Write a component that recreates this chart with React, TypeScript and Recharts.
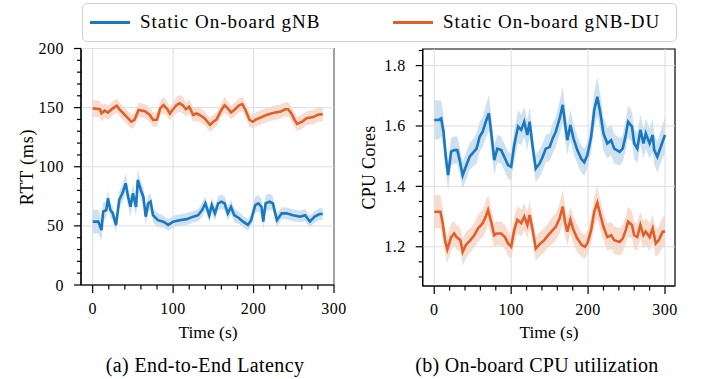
import React from 'react';
import { ComposedChart, Line, Area, XAxis, YAxis, ReferenceLine, ReferenceArea } from 'recharts';

const BLUE = '#1a78be';
const ORANGE = '#e06027';
const FONT = '"Liberation Serif", "Times New Roman", Times, serif';

// (a) End-to-End Latency, RTT in ms
const latGnbTime = [0, 7, 11, 13, 17, 19, 22, 25, 29, 33, 37, 41, 44, 47, 50, 54, 56, 60, 63, 66, 69, 72, 75, 81, 88, 94, 100, 108, 117, 125, 131, 136, 140, 145, 148, 152, 156, 160, 164, 168, 172, 176, 182, 187, 193, 197, 202, 206, 210, 212, 215, 220, 224, 229, 235, 241, 249, 258, 264, 270, 276, 282, 286];
const latGnbRtt = [53.6, 53.6, 46.5, 62, 63.4, 73.3, 63.4, 60.6, 50.7, 71.9, 77.5, 86, 74.7, 66.2, 77.5, 66, 88.8, 80, 74.7, 57.8, 69, 70.5, 59, 54.8, 53.6, 50.8, 53.6, 54.8, 55.7, 57.8, 59, 63.4, 69, 59, 67.6, 60.6, 69, 70.5, 69, 60.6, 66, 59, 56.5, 53.6, 50.8, 54.8, 67.6, 69, 66, 53.6, 69, 70.5, 69, 54.8, 60.6, 60.6, 59, 57.8, 59, 53.6, 57.8, 60, 60];
const latGnbSpread = [10, 10, 9, 8, 7, 7, 6, 6, 6, 7, 8, 8, 8, 8, 8, 8, 9, 8, 8, 7, 7, 7, 6, 6, 5, 5, 5, 5, 5, 5, 5, 6, 6, 6, 6, 6, 6, 6, 6, 6, 6, 6, 5, 5, 5, 5, 7, 7, 7, 7, 7, 7, 6, 6, 5, 5, 5, 5, 5, 5, 5, 5, 5];

const latDuTime = [0, 5, 9, 11, 15, 19, 25, 30, 34, 40, 48, 52, 57, 65, 71, 75, 80, 84, 88, 93, 96, 100, 104, 108, 112, 116, 120, 125, 129, 133, 139, 146, 150, 154, 160, 164, 168, 172, 176, 182, 186, 190, 195, 199, 203, 210, 216, 222, 228, 234, 239, 243, 247, 251, 254, 260, 266, 274, 280, 286];
const latDuRtt = [149.4, 149, 148.6, 145.2, 147.5, 145.8, 149.4, 151.6, 148, 143.8, 138.2, 139.6, 148, 147, 143.8, 139.6, 140, 149.4, 152.2, 148.6, 145, 148.6, 152, 153.6, 152, 148.6, 150.8, 143.8, 145, 143.8, 141, 135.4, 138, 140, 148, 152, 149.4, 146, 148, 152, 153, 148, 139.6, 138, 140, 142, 143.8, 145, 146, 146.7, 148.6, 148.6, 145, 139.6, 136.2, 138, 141, 142, 144, 144.5];
const latDuSpread = [7, 7, 7, 7, 6, 6, 6, 6, 6, 6, 6, 6, 6, 6, 6, 6, 6, 6, 7, 6, 6, 6, 7, 7, 7, 6, 6, 6, 6, 6, 6, 6, 6, 6, 6, 7, 6, 6, 6, 6, 6, 6, 6, 6, 6, 6, 6, 6, 6, 6, 6, 6, 6, 6, 6, 6, 6, 6, 6, 6];

// (b) On-board CPU utilization, cores
const cpuGnbTime = [0, 6, 9, 12, 15, 18, 22, 26, 30, 33, 37, 41, 46, 50, 55, 59, 63, 67, 71, 74, 78, 82, 87, 91, 96, 100, 104, 109, 113, 117, 121, 124, 128, 132, 137, 141, 145, 150, 154, 158, 163, 167, 170, 173, 177, 181, 186, 191, 195, 199, 204, 208, 212, 216, 220, 225, 230, 234, 241, 245, 249, 252, 257, 260, 264, 268, 272, 275, 280, 284, 286, 290, 296, 300];
const cpuGnbCores = [1.62, 1.62, 1.625, 1.581, 1.498, 1.437, 1.515, 1.52, 1.52, 1.487, 1.437, 1.465, 1.498, 1.51, 1.525, 1.564, 1.581, 1.614, 1.642, 1.581, 1.487, 1.525, 1.52, 1.498, 1.47, 1.465, 1.537, 1.598, 1.587, 1.614, 1.57, 1.614, 1.53, 1.459, 1.476, 1.498, 1.525, 1.53, 1.559, 1.581, 1.625, 1.67, 1.61, 1.553, 1.603, 1.559, 1.52, 1.492, 1.48, 1.503, 1.564, 1.653, 1.697, 1.642, 1.575, 1.542, 1.553, 1.525, 1.514, 1.525, 1.57, 1.614, 1.598, 1.542, 1.525, 1.587, 1.542, 1.575, 1.542, 1.57, 1.52, 1.498, 1.542, 1.57];
const cpuGnbSpread = [0.065, 0.065, 0.06, 0.055, 0.05, 0.05, 0.045, 0.045, 0.045, 0.045, 0.045, 0.045, 0.045, 0.045, 0.05, 0.05, 0.05, 0.055, 0.06, 0.055, 0.05, 0.045, 0.045, 0.045, 0.045, 0.045, 0.05, 0.055, 0.05, 0.05, 0.05, 0.05, 0.045, 0.045, 0.045, 0.045, 0.045, 0.045, 0.05, 0.05, 0.055, 0.06, 0.055, 0.05, 0.05, 0.05, 0.045, 0.045, 0.045, 0.045, 0.05, 0.06, 0.065, 0.06, 0.055, 0.05, 0.05, 0.05, 0.045, 0.045, 0.05, 0.055, 0.05, 0.05, 0.05, 0.05, 0.05, 0.05, 0.05, 0.055, 0.05, 0.05, 0.055, 0.06];

const cpuDuTime = [0, 8, 11, 14, 17, 22, 26, 29, 34, 37, 41, 47, 52, 57, 63, 67, 70, 74, 78, 81, 87, 92, 96, 100, 104, 108, 113, 117, 121, 124, 128, 132, 138, 143, 148, 154, 158, 163, 167, 170, 173, 177, 181, 186, 192, 196, 199, 204, 208, 212, 216, 220, 225, 230, 234, 241, 245, 249, 252, 257, 260, 264, 268, 272, 275, 280, 284, 288, 292, 297, 300];
const cpuDuCores = [1.316, 1.316, 1.278, 1.222, 1.191, 1.232, 1.244, 1.232, 1.222, 1.183, 1.205, 1.222, 1.238, 1.261, 1.278, 1.3, 1.322, 1.283, 1.238, 1.244, 1.244, 1.232, 1.211, 1.2, 1.255, 1.289, 1.278, 1.3, 1.272, 1.305, 1.255, 1.194, 1.211, 1.222, 1.238, 1.255, 1.266, 1.294, 1.333, 1.283, 1.25, 1.289, 1.255, 1.227, 1.205, 1.2, 1.211, 1.255, 1.316, 1.346, 1.305, 1.266, 1.232, 1.238, 1.222, 1.216, 1.227, 1.255, 1.283, 1.272, 1.238, 1.232, 1.272, 1.238, 1.25, 1.232, 1.261, 1.211, 1.222, 1.25, 1.25];
const cpuDuSpread = [0.055, 0.055, 0.05, 0.045, 0.045, 0.045, 0.04, 0.04, 0.04, 0.045, 0.045, 0.04, 0.04, 0.045, 0.045, 0.05, 0.05, 0.045, 0.04, 0.04, 0.04, 0.04, 0.04, 0.04, 0.045, 0.045, 0.045, 0.045, 0.045, 0.045, 0.04, 0.04, 0.04, 0.04, 0.04, 0.045, 0.045, 0.05, 0.055, 0.05, 0.045, 0.045, 0.045, 0.045, 0.04, 0.04, 0.04, 0.045, 0.05, 0.055, 0.05, 0.045, 0.045, 0.045, 0.045, 0.045, 0.045, 0.045, 0.05, 0.045, 0.045, 0.045, 0.045, 0.045, 0.045, 0.045, 0.045, 0.045, 0.045, 0.05, 0.05];

// ticks
const latXTicks = [0, 20, 40, 60, 80, 100, 120, 140, 160, 180, 200, 220, 240, 260, 280, 300];
const latXMajor = [0, 100, 200, 300];
const latYTicks = [0, 10, 20, 30, 40, 50, 60, 70, 80, 90, 100, 110, 120, 130, 140, 150, 160, 170, 180, 190, 200];
const latYMajor = [0, 50, 100, 150, 200];
const cpuXTicks = [0, 20, 40, 60, 80, 100, 120, 140, 160, 180, 200, 220, 240, 260, 280, 300];
const cpuXMajor = [0, 100, 200, 300];
const cpuYTicks = [1.1, 1.15, 1.2, 1.25, 1.3, 1.35, 1.4, 1.45, 1.5, 1.55, 1.6, 1.65, 1.7, 1.75, 1.8, 1.85];
const cpuYMajor = [1.2, 1.4, 1.6, 1.8];

const LEGEND = ['Static On-board gNB', 'Static On-board gNB-DU'];

type Row = { t: number; v: number; band: [number, number] };
const toRows = (t: number[], v: number[], s: number[]): Row[] =>
  t.map((x, i) => ({ t: x, v: v[i], band: [v[i] - s[i], v[i] + s[i]] }));

const latGnb = toRows(latGnbTime, latGnbRtt, latGnbSpread);
const latDu = toRows(latDuTime, latDuRtt, latDuSpread);
const cpuGnb = toRows(cpuGnbTime, cpuGnbCores, cpuGnbSpread);
const cpuDu = toRows(cpuDuTime, cpuDuCores, cpuDuSpread);

const XTick = (props: any) => {
  const { x, y, payload, majors } = props;
  const major = majors.includes(payload.value);
  return (
    <g>
      <line x1={x} x2={x} y1={y} y2={y + (major ? 8 : 4.5)} stroke="#000" strokeWidth={1.2} />
      {major && (
        <text x={x} y={y + 29} textAnchor="middle" fontFamily={FONT} fontWeight="normal" fontSize={16} letterSpacing={0.5} fill="#000">
          {payload.value}
        </text>
      )}
    </g>
  );
};

const YTick = (props: any) => {
  const { x, y, payload, majors, digits } = props;
  const major = majors.includes(payload.value);
  return (
    <g>
      <line x1={x - (major ? 7 : 4)} x2={x} y1={y} y2={y} stroke="#000" strokeWidth={1.2} />
      {major && (
        <text x={x - 17} y={y + 5.5} textAnchor="end" fontFamily={FONT} fontWeight="normal" fontSize={16} letterSpacing={0.5} fill="#000">
          {payload.value.toFixed(digits)}
        </text>
      )}
    </g>
  );
};

const axisLine = { stroke: '#000', strokeWidth: 1.2 };
const GRID = '#dddddd';

const Panel = (props: {
  width: number;
  height: number;
  margin: { top: number; right: number; bottom: number; left: number };
  yWidth: number;
  xDomain: [number, number];
  yDomain: [number, number];
  xTicks: number[];
  xMajor: number[];
  yTicks: number[];
  yMajor: number[];
  digits: number;
  blue: Row[];
  orange: Row[];
}) => {
  const { xDomain, yDomain } = props;
  return (
    <ComposedChart width={props.width} height={props.height} margin={props.margin}>
      <XAxis
        dataKey="t"
        type="number"
        domain={xDomain}
        allowDataOverflow
        ticks={props.xTicks}
        interval={0}
        height={55}
        tickSize={0}
        tickMargin={0}
        tickLine={false}
        axisLine={axisLine}
        tick={<XTick majors={props.xMajor} />}
      />
      <YAxis
        type="number"
        domain={yDomain}
        allowDataOverflow
        ticks={props.yTicks}
        interval={0}
        width={props.yWidth}
        tickSize={0}
        tickMargin={0}
        tickLine={false}
        axisLine={axisLine}
        tick={<YTick majors={props.yMajor} digits={props.digits} />}
      />
      {props.xMajor.map((v) => (
        <ReferenceLine key={'gx' + v} x={v} stroke={GRID} strokeWidth={1} />
      ))}
      {props.yMajor.map((v) => (
        <ReferenceLine key={'gy' + v} y={v} stroke={GRID} strokeWidth={1} />
      ))}
      <Area data={props.orange} dataKey="band" type="linear" stroke="none" fill={ORANGE} fillOpacity={0.22} isAnimationActive={false} />
      <Area data={props.blue} dataKey="band" type="linear" stroke="none" fill={BLUE} fillOpacity={0.22} isAnimationActive={false} />
      <Line data={props.orange} dataKey="v" type="linear" stroke={ORANGE} strokeWidth={2.6} dot={false} isAnimationActive={false} />
      <Line data={props.blue} dataKey="v" type="linear" stroke={BLUE} strokeWidth={2.6} dot={false} isAnimationActive={false} />
      <ReferenceArea x1={xDomain[0]} x2={xDomain[1]} y1={yDomain[0]} y2={yDomain[1]} fill="none" fillOpacity={0} stroke="#000" strokeWidth={1.2} strokeOpacity={1} />
    </ComposedChart>
  );
};

const textStyle = { fontFamily: FONT, fill: '#000', fontWeight: 'normal' } as const;

export default function App() {
  return (
    <div style={{ position: 'absolute', left: 0, top: 0, width: 701, height: 379, background: '#fff', overflow: 'hidden' }}>
      <div style={{ position: 'absolute', left: 0, top: 0 }}>
        <Panel
          width={350}
          height={340}
          margin={{ top: 48.5, right: 16, bottom: 0, left: 0 }}
          yWidth={81}
          xDomain={[-14.5, 300]}
          yDomain={[0, 200]}
          xTicks={latXTicks}
          xMajor={latXMajor}
          yTicks={latYTicks}
          yMajor={latYMajor}
          digits={0}
          blue={latGnb}
          orange={latDu}
        />
      </div>
      <div style={{ position: 'absolute', left: 340, top: 0 }}>
        <Panel
          width={361}
          height={341}
          margin={{ top: 49, right: 26, bottom: 0, left: 0 }}
          yWidth={82.7}
          xDomain={[-15, 313]}
          yDomain={[1.07, 1.855]}
          xTicks={cpuXTicks}
          xMajor={cpuXMajor}
          yTicks={cpuYTicks}
          yMajor={cpuYMajor}
          digits={1}
          blue={cpuGnb}
          orange={cpuDu}
        />
      </div>

      <svg width={701} height={379} style={{ position: 'absolute', left: 0, top: 0, pointerEvents: 'none' }}>
        <text x={208} y={338} textAnchor="middle" fontSize={17.5} {...textStyle}>Time (s)</text>
        <text x={549} y={338} textAnchor="middle" fontSize={17.5} {...textStyle}>Time (s)</text>
        <text transform="translate(33,167) rotate(-90)" textAnchor="middle" fontSize={18} letterSpacing={0.8} {...textStyle}>RTT (ms)</text>
        <text transform="translate(375,167.5) rotate(-90)" textAnchor="middle" fontSize={18} letterSpacing={0.3} {...textStyle}>CPU Cores</text>
        <text x={205} y={371.5} textAnchor="middle" fontSize={20} letterSpacing={0.4} {...textStyle}>(a) End-to-End Latency</text>
        <text x={537} y={371.5} textAnchor="middle" fontSize={20} letterSpacing={0.3} {...textStyle}>(b) On-board CPU utilization</text>
      </svg>

      <div
        style={{
          position: 'absolute',
          left: 82,
          top: 3,
          width: 595,
          height: 39,
          boxSizing: 'border-box',
          border: '1.5px solid #cfcfcf',
          borderRadius: 5,
          background: '#fff',
          fontFamily: FONT,
          fontSize: 19,
          letterSpacing: 1,
          color: '#000',
        }}
      >
        {LEGEND.map((name, i) => (
          <div key={name} style={{ position: 'absolute', left: i === 0 ? 7 : 310, top: 0, height: 36, display: 'flex', alignItems: 'center' }}>
            <span style={{ display: 'inline-block', width: 40, height: 3, background: i === 0 ? BLUE : ORANGE, marginRight: 10 }} />
            <span style={{ whiteSpace: 'nowrap' }}>{name}</span>
          </div>
        ))}
      </div>
    </div>
  );
}
